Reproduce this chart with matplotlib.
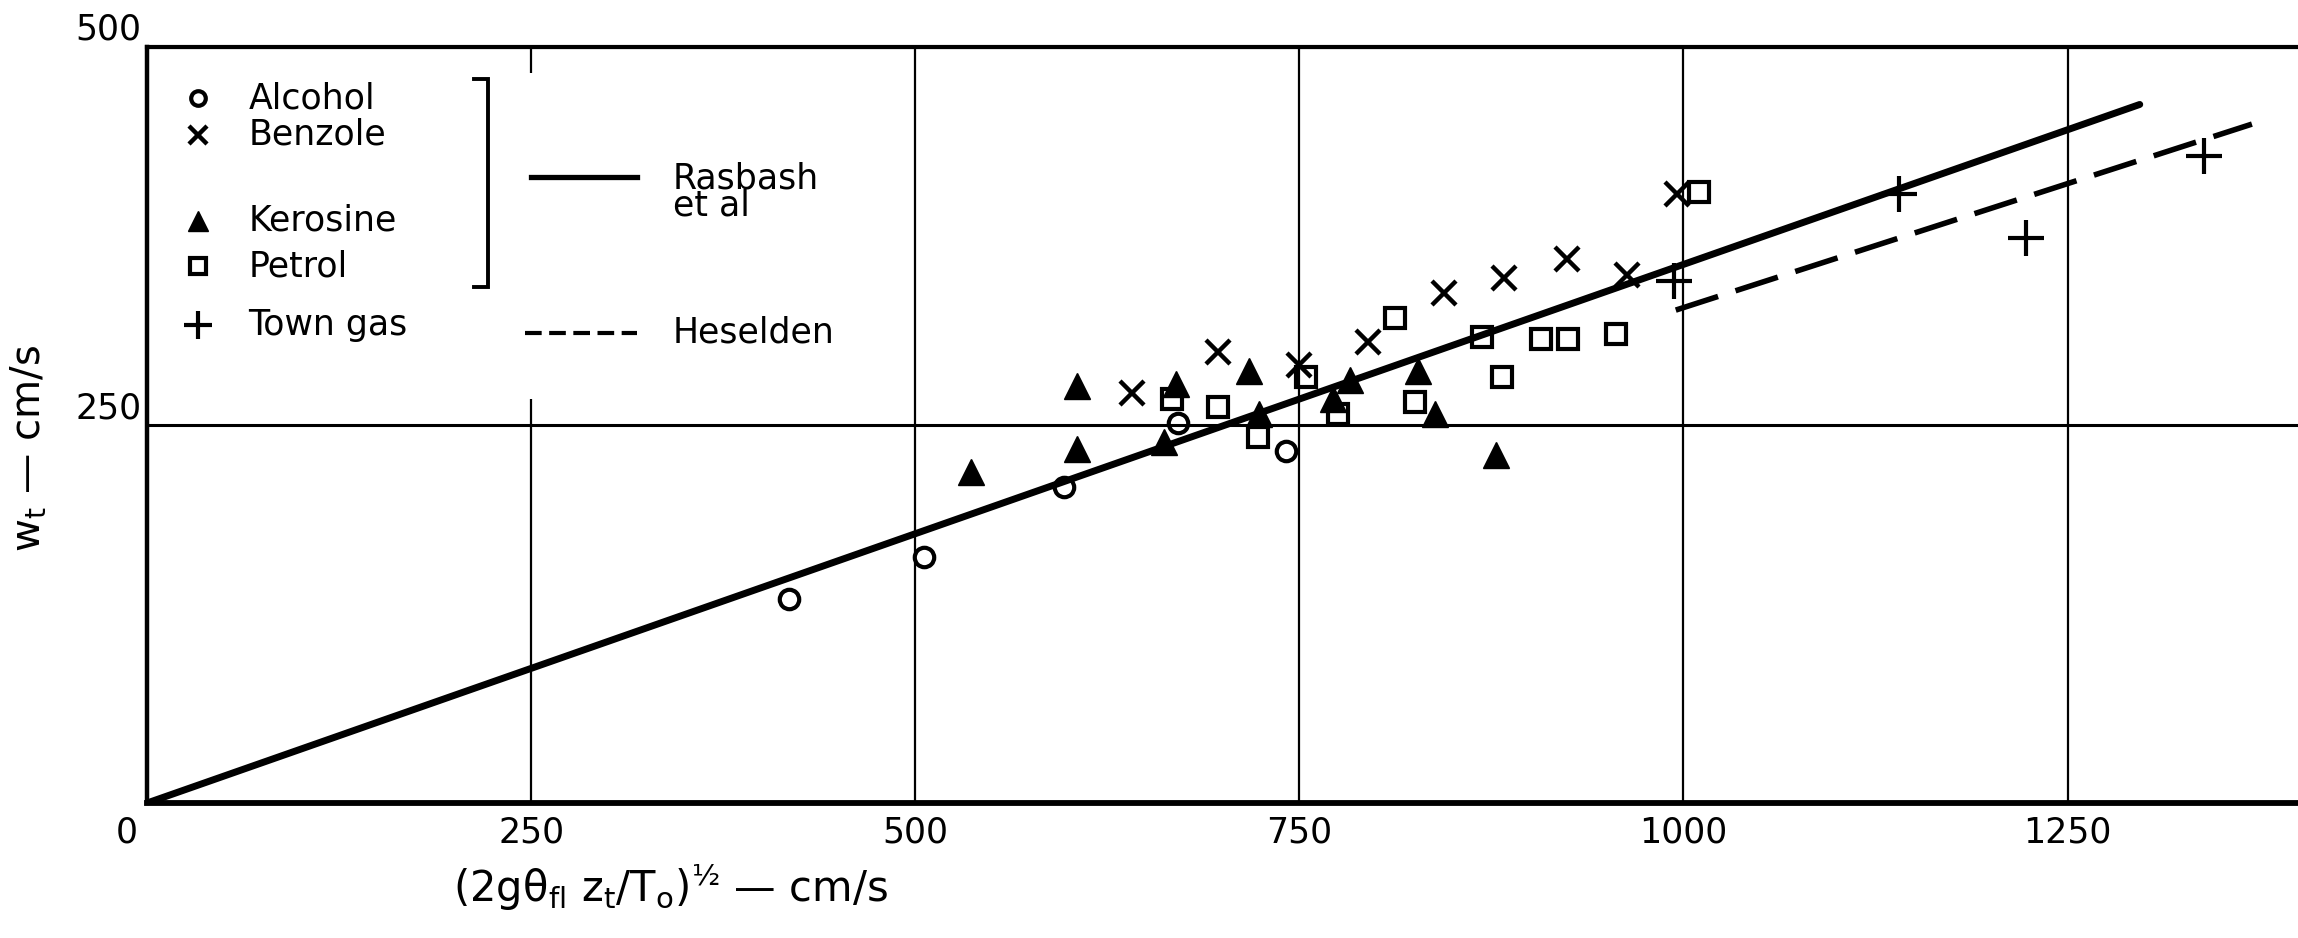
import matplotlib
matplotlib.use("Agg")
import matplotlib.pyplot as plt
import matplotlib.transforms as mtransforms
from matplotlib.patches import Rectangle

# ===================== DATA =====================

alcohol_x = [418, 506, 597, 671, 741]
alcohol_y = [135, 163, 209, 251, 233]

benzole_x = [641, 697, 750, 795, 844, 883, 924, 963, 996]
benzole_y = [271, 298, 290, 305, 337, 347, 360, 349, 403]

kerosine_x = [536, 605, 605, 662, 670, 717, 724, 772, 783, 827, 838, 878]
kerosine_y = [219, 276, 234, 239, 277, 286, 257, 267, 280, 286, 257, 230]

petrol_x = [667, 697, 723, 754, 775, 812, 825, 869, 882, 907, 925, 956, 1010]
petrol_y = [267, 262, 242, 282, 257, 321, 265, 308, 282, 307, 307, 310, 404]

town_gas_x = [994, 1140, 1223, 1339]
town_gas_y = [345, 403, 374, 428]

# correlation lines (end points)
rasbash_x = [0, 1297]
rasbash_y = [0, 462]
heselden_x = [995, 1370]
heselden_y = [326, 449]

x_ticks = [0, 250, 500, 750, 1000, 1250]
y_ticks = [250, 500]

legend_labels = ["Alcohol", "Benzole", "Kerosine", "Petrol", "Town gas"]
legend_rows = [466, 442, 385, 355, 316]

# ===================== STYLE =====================

plt.rcParams["font.family"] = ["DejaVu Sans"]
plt.rcParams["mathtext.default"] = "regular"

FS = 25
INK = "black"

styles = {
    "Alcohol": dict(marker="o", ms=14, mfc="none", mec=INK, mew=3.0),
    "Benzole": dict(marker="x", ms=17, mec=INK, mew=3.2),
    "Kerosine": dict(marker="^", ms=19, mfc=INK, mec=INK, mew=1),
    "Petrol": dict(marker="s", ms=15, mfc="none", mec=INK, mew=3.0),
    "Town gas": dict(marker="+", ms=26, mec=INK, mew=3.0),
}

series = {
    "Alcohol": (alcohol_x, alcohol_y),
    "Benzole": (benzole_x, benzole_y),
    "Kerosine": (kerosine_x, kerosine_y),
    "Petrol": (petrol_x, petrol_y),
    "Town gas": (town_gas_x, town_gas_y),
}

# ===================== FIGURE =====================

fig = plt.figure(figsize=(22.98, 9.38), dpi=100)
ax = fig.add_axes([0.064, 0.1439, 0.936, 0.806])

ax.set_xlim(0, 1400)
ax.set_ylim(0, 500)

# grid
ax.set_axisbelow(True)
ax.xaxis.grid(True, color=INK, lw=1.6)
ax.yaxis.grid(True, color=INK, lw=2.2)

ax.set_xticks(x_ticks)
ax.set_xticklabels([str(t) for t in x_ticks])
ax.set_yticks(y_ticks)
ax.set_yticklabels([str(t) for t in y_ticks])
ax.tick_params(axis="both", length=0, labelsize=FS, colors=INK)
ax.tick_params(axis="x", pad=9)
ax.tick_params(axis="y", pad=4)
plt.setp(ax.get_yticklabels(), va="bottom")

# the "0" sits a little left of the origin
shift = mtransforms.ScaledTranslation(-0.2, 0, fig.dpi_scale_trans)
first = ax.get_xticklabels()[0]
first.set_transform(first.get_transform() + shift)

ax.spines["right"].set_visible(False)
ax.spines["left"].set_linewidth(3.2)
ax.spines["top"].set_linewidth(3.0)
ax.spines["bottom"].set_linewidth(4.2)

# white patch behind the key (hides the 250 grid line there)
ax.add_patch(Rectangle((0, 267), 480, 216, facecolor="white",
                       edgecolor="none", zorder=1))

# ---------- lines ----------
ax.plot(rasbash_x, rasbash_y, color=INK, lw=5.0, solid_capstyle="round", zorder=3)
ax.plot(heselden_x, heselden_y, color=INK, lw=4.0, dashes=(8.0, 3.3), zorder=3)

# ---------- points ----------
for name, (xs, ys) in series.items():
    ax.plot(xs, ys, ls="none", zorder=4, **styles[name])

# ---------- key ----------
for name, yk in zip(legend_labels, legend_rows):
    st = dict(styles[name])
    st["ms"] = st["ms"] * 0.75
    ax.plot([33], [yk], ls="none", zorder=4, clip_on=False, **st)
    ax.text(66, yk, name, fontsize=FS, va="center", ha="left", zorder=4)

# bracket grouping the four liquid fuels
ax.plot([213, 222, 222, 213], [479, 479, 341, 341], color=INK, lw=2.8,
        solid_joinstyle="miter", zorder=4)

ax.plot([250, 319], [414, 414], color=INK, lw=3.8, zorder=4)
ax.text(342, 404, "Rasbash\net al", fontsize=FS, va="center", ha="left",
        linespacing=0.75, zorder=4)

ax.plot([246, 319], [311, 311], color=INK, lw=3.0, dashes=(4, 1.8), zorder=4)
ax.text(342, 311, "Heselden", fontsize=FS, va="center", ha="left", zorder=4)

# ---------- axis labels ----------
fig.text(0.0126, 0.522, "w$_t$ \u2014 cm/s", rotation=90, fontsize=29,
         ha="center", va="center")
fig.text(0.2916, 0.054, "$(2g\\theta_{fl}\\ z_t/T_o)^{\u00bd}$ \u2014 cm/s",
         fontsize=30, ha="center", va="center")

fig.savefig("out.png", dpi=100)
